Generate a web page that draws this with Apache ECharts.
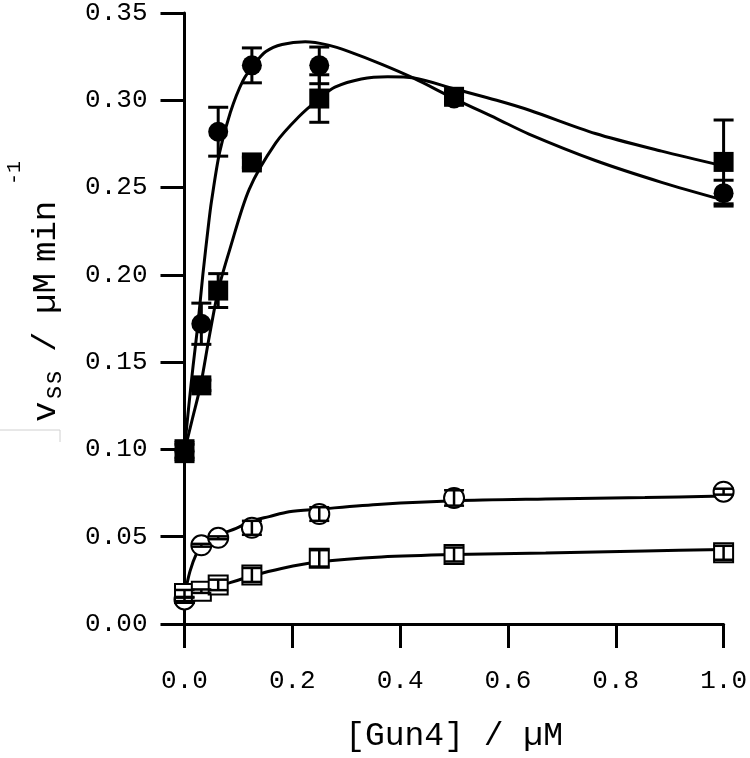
<!DOCTYPE html>
<html>
<head>
<meta charset="utf-8">
<script src="https://cdn.jsdelivr.net/npm/echarts@6/dist/echarts.min.js"></script>
<style>html,body{margin:0;padding:0;background:#fff}#c{width:750px;height:758px}</style>
</head>
<body>
<div id="c"></div>
<script>
// ---- data ----
const conc = [0, 0.03125, 0.0625, 0.125, 0.25, 0.5, 1.0];

const filledCircle    = [0.099, 0.172, 0.282, 0.320, 0.320, 0.301, 0.2468];
const filledCircleErr = [0.004, 0.0118, 0.014, 0.010, 0.0105, 0.003, 0.0074];
const filledSquare    = [0.099, 0.1367, 0.191, 0.2644, 0.301, 0.302, 0.2647];
const filledSquareErr = [0.006, 0.003, 0.0097, 0.003, 0.0136, 0.003, 0.024];
const openCircle      = [0.0141, 0.0451, 0.0494, 0.0551, 0.0630, 0.0722, 0.0758];
const openCircleErr   = [0.001, 0.0008, 0.0008, 0.004, 0.0039, 0.0044, 0.0017];
const openSquare      = [0.0175, 0.0188, 0.0224, 0.0281, 0.0376, 0.0398, 0.0408];
const openSquareErr   = [0.002, 0.001, 0.003, 0.004, 0.0047, 0.004, 0.004];

// fitted curves
const fitFilledCircleX = [0, 0.008, 0.016, 0.025, 0.034, 0.045, 0.05, 0.065, 0.085, 0.108, 0.13, 0.151, 0.181, 0.224, 0.267, 0.304, 0.365, 0.426, 0.5, 0.579, 0.64, 0.762, 0.885, 1.0];
const fitFilledCircleY = [0.100, 0.125, 0.148, 0.172, 0.200, 0.230, 0.242, 0.270, 0.293, 0.311, 0.321, 0.328, 0.332, 0.3335, 0.3316, 0.328, 0.3207, 0.3125, 0.301, 0.2895, 0.2805, 0.2655, 0.2530, 0.2428];
const fitFilledSquareX = [0, 0.015, 0.03, 0.045, 0.0625, 0.0835, 0.12, 0.169, 0.212, 0.25, 0.279, 0.328, 0.377, 0.426, 0.5, 0.579, 0.64, 0.762, 0.885, 1.0];
const fitFilledSquareY = [0.099, 0.118, 0.137, 0.163, 0.191, 0.214, 0.249, 0.2755, 0.2906, 0.301, 0.3075, 0.3122, 0.3135, 0.3128, 0.3066, 0.300, 0.2943, 0.281, 0.2709, 0.2624];
const fitOpenCircleX = [0, 0.01, 0.0224, 0.0345, 0.065, 0.0958, 0.125, 0.157, 0.194, 0.25, 0.365, 0.5, 0.67, 0.854, 1.0];
const fitOpenCircleY = [0.016, 0.030, 0.0404, 0.046, 0.0512, 0.0548, 0.059, 0.0615, 0.0643, 0.0658, 0.0686, 0.0706, 0.0716, 0.0724, 0.0733];
const fitOpenSquareX = [0, 0.03, 0.065, 0.125, 0.18, 0.25, 0.365, 0.5, 0.67, 0.854, 1.0];
const fitOpenSquareY = [0.016, 0.0185, 0.0218, 0.0275, 0.0318, 0.0356, 0.0384, 0.0398, 0.0406, 0.0418, 0.0427];

const xTicks = ['0.0', '0.2', '0.4', '0.6', '0.8', '1.0'];
const yTicks = ['0.00', '0.05', '0.10', '0.15', '0.20', '0.25', '0.30', '0.35'];
const xTitle = '[Gun4] / µM';
const yTitleParts = ['v', 'ss', '/', 'µM', 'min', '-1'];

// ---- chart ----
const MONO = '"Liberation Mono", "DejaVu Sans Mono", monospace';
const zip = (a, b) => a.map((v, i) => [v, b[i]]);
const zip3 = (a, b, c) => a.map((v, i) => [v, b[i], c[i]]);

function errBar(lw) {
  return function (params, api) {
    const x = api.value(0), y = api.value(1), e = api.value(2);
    const p0 = api.coord([x, y - e]);
    const p1 = api.coord([x, y + e]);
    const h = 10;
    const st = { stroke: '#000', lineWidth: lw };
    return {
      type: 'group',
      children: [
        { type: 'line', shape: { x1: p0[0], y1: p0[1], x2: p1[0], y2: p1[1] }, style: st },
        { type: 'line', shape: { x1: p0[0] - h, y1: p0[1], x2: p0[0] + h, y2: p0[1] }, style: st },
        { type: 'line', shape: { x1: p1[0] - h, y1: p1[1], x2: p1[0] + h, y2: p1[1] }, style: st }
      ]
    };
  };
}

function curve(xs, ys) {
  return { type: 'line', data: zip(xs, ys), showSymbol: false, symbol: 'none', smooth: 0.3,
           lineStyle: { color: '#000', width: 3 }, z: 2, clip: false, silent: true };
}
function pts(ys, symbol, size, filled) {
  return { type: 'scatter', data: zip(conc, ys), symbol: symbol, symbolSize: size, z: filled ? 5 : 3, clip: false,
           itemStyle: filled ? { color: '#000', opacity: 1 } : { color: '#fff', borderColor: '#000', borderWidth: 2, opacity: 1 } };
}
function bars(ys, errs, lw, z) {
  return { type: 'custom', data: zip3(conc, ys, errs), renderItem: errBar(lw), z: z, clip: false, silent: true };
}

// rotated y title pieces: [text, offset along reading direction, baseline (screen x), font size]
function tpart(text, lx, base, fs) {
  return { type: 'text', x: lx, y: base - 0.3 * fs,
           style: { text: text, fill: '#000', font: fs + 'px ' + MONO,
                    align: 'left', verticalAlign: 'middle', textAlign: 'left', textVerticalAlign: 'middle' } };
}

const chart = echarts.init(document.getElementById('c'), null, { renderer: 'canvas' });
chart.setOption({
  animation: false,
  backgroundColor: '#fff',
  grid: { left: 184.5, right: 21, top: 8.3, bottom: 129.7, containLabel: false },
  xAxis: {
    type: 'value', min: 0, max: 1.0, interval: 0.2,
    axisLine: { show: true, lineStyle: { color: '#000', width: 3 } },
    axisTick: { show: true, inside: false, length: 24, lineStyle: { color: '#000', width: 3 } },
    splitLine: { show: false },
    axisLabel: { margin: 44, color: '#000', fontFamily: MONO, fontSize: 26,
                 formatter: (v) => xTicks[Math.round(v / 0.2)] },
    name: xTitle, nameLocation: 'middle', nameGap: 96,
    nameTextStyle: { color: '#000', fontFamily: MONO, fontSize: 33 }
  },
  yAxis: {
    type: 'value', min: 0, max: 0.35, interval: 0.05,
    axisLine: { show: true, lineStyle: { color: '#000', width: 3 } },
    axisTick: { show: true, inside: false, length: 24, lineStyle: { color: '#000', width: 3 } },
    splitLine: { show: false },
    axisLabel: { margin: 37, color: '#000', fontFamily: MONO, fontSize: 26,
                 formatter: (v) => yTicks[Math.round(v / 0.05)] }
  },
  graphic: [
    {
      type: 'group', x: 0, y: 422, rotation: Math.PI / 2, z: 10,
      children: [
        tpart(yTitleParts[0], 0, 56, 34),
        tpart(yTitleParts[1], 22, 62, 25),
        tpart(yTitleParts[2], 70, 56, 34),
        tpart(yTitleParts[3], 108, 56, 34),
        tpart(yTitleParts[4], 160, 56, 34),
        tpart(yTitleParts[5], 237, 21, 20)
      ]
    },
    { type: 'polyline', shape: { points: [[0, 430], [60, 430], [60, 442]] }, style: { stroke: '#d0d0d0', lineWidth: 1, fill: null }, z: 1 }
  ],
  series: [
    curve(fitFilledCircleX, fitFilledCircleY),
    curve(fitFilledSquareX, fitFilledSquareY),
    curve(fitOpenCircleX, fitOpenCircleY),
    curve(fitOpenSquareX, fitOpenSquareY),
    bars(filledCircle, filledCircleErr, 3, 4),
    bars(filledSquare, filledSquareErr, 3, 4),
    pts(openCircle, 'circle', 20, false),
    pts(openSquare, 'rect', 19, false),
    bars(openCircle, openCircleErr, 2.5, 4),
    bars(openSquare, openSquareErr, 2.5, 4),
    pts(filledCircle, 'circle', 20, true),
    pts(filledSquare, 'rect', 20, true)
  ]
});
</script>
</body>
</html>
